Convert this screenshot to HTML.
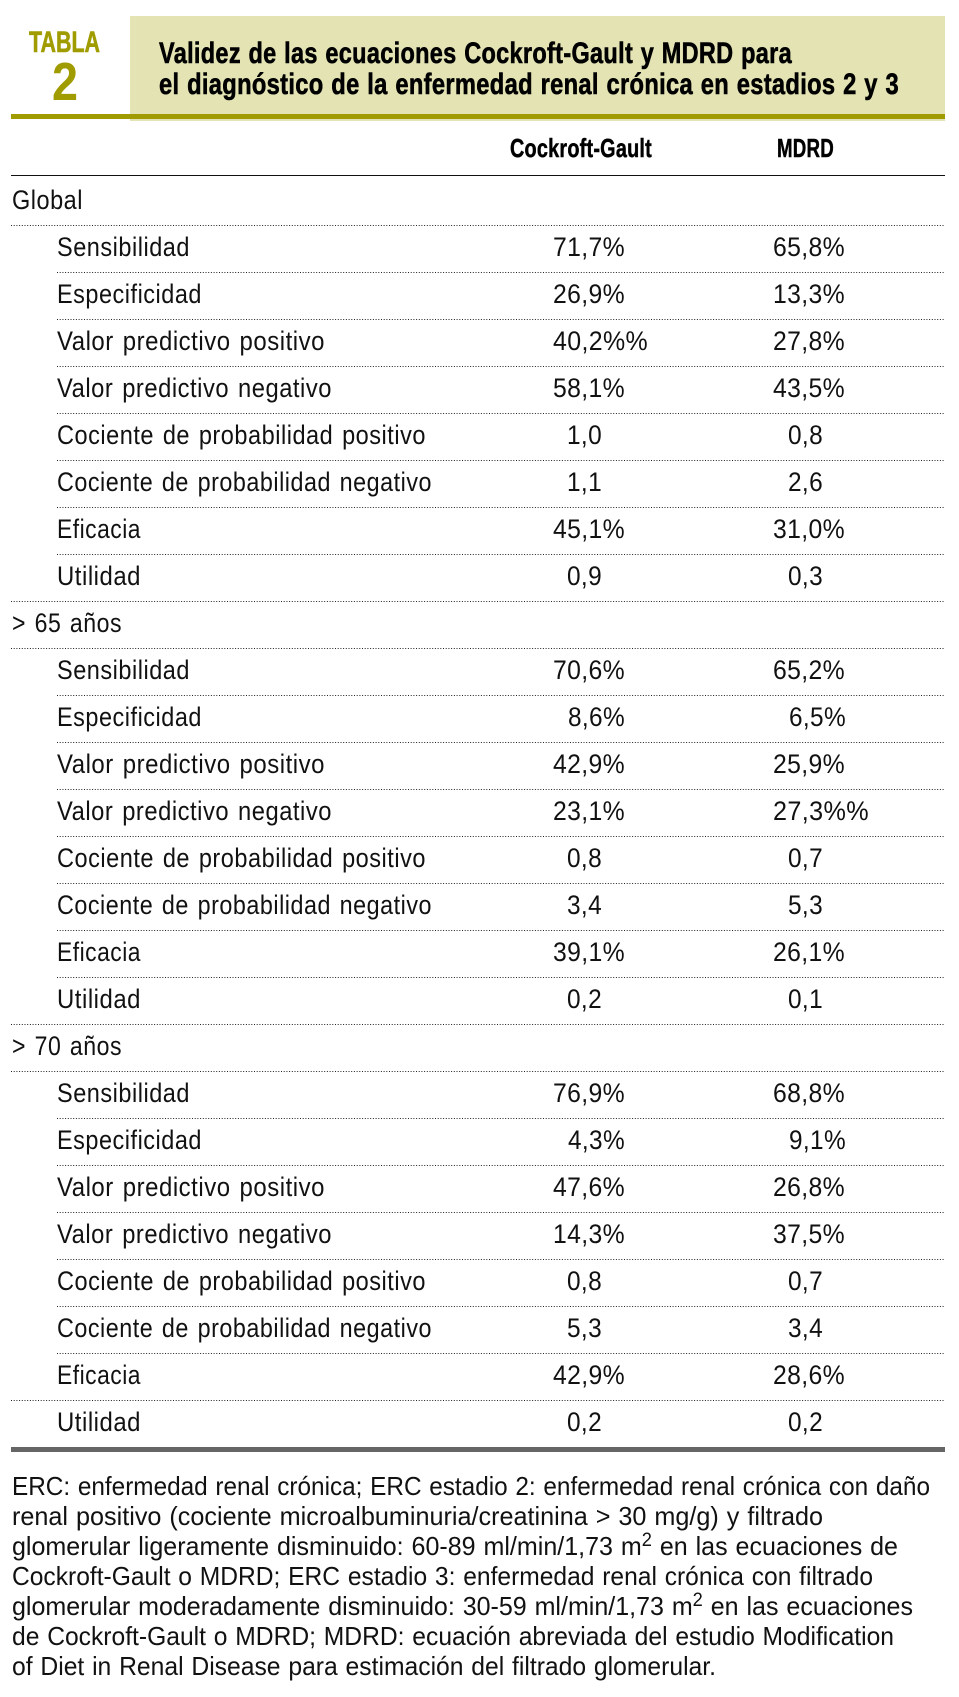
<!DOCTYPE html>
<html lang="es">
<head>
<meta charset="utf-8">
<title>Tabla 2</title>
<style>
html,body{margin:0;padding:0;background:#fff;}
svg{display:block;}
text{font-family:"Liberation Sans",Arial,sans-serif;fill:#111;white-space:pre;}
.t{font-size:27px;letter-spacing:.6px;word-spacing:2px;}
.v{font-size:27px;letter-spacing:.4px;}
.f{font-size:26px;word-spacing:1px;}
.h{font-size:26px;font-weight:bold;fill:#000;letter-spacing:.3px;stroke:#000;stroke-width:.5px;}
.ti{font-size:30px;font-weight:bold;fill:#000;letter-spacing:.4px;word-spacing:1px;stroke:#000;stroke-width:.6px;}
.d{stroke:#222;stroke-width:1;stroke-dasharray:1 1.7;}
</style>
</head>
<body>
<svg width="959" height="1697" viewBox="0 0 959 1697" xmlns="http://www.w3.org/2000/svg">
<rect x="0" y="0" width="959" height="1697" fill="#fff"/>
<rect x="130" y="16" width="815" height="105" fill="#e3e3b3"/>
<rect x="11" y="114" width="934" height="5" fill="#a09c00"/>
<text x="29" y="52" font-size="30" font-weight="bold" style="fill:#a09c00;stroke:#a09c00;stroke-width:.6px" textLength="71" lengthAdjust="spacingAndGlyphs">TABLA</text>
<text x="52" y="100" font-size="54" font-weight="bold" style="fill:#a09c00" textLength="26" lengthAdjust="spacingAndGlyphs">2</text>
<text class="ti" x="159" y="63" textLength="633" lengthAdjust="spacingAndGlyphs">Validez de las ecuaciones Cockroft-Gault y MDRD para</text>
<text class="ti" x="159" y="94" textLength="740" lengthAdjust="spacingAndGlyphs">el diagnóstico de la enfermedad renal crónica en estadios 2 y 3</text>
<text class="h" x="510" y="157" textLength="142" lengthAdjust="spacingAndGlyphs">Cockroft-Gault</text>
<text class="h" x="777" y="157" textLength="57" lengthAdjust="spacingAndGlyphs">MDRD</text>
<rect x="11" y="175" width="934" height="1" fill="#111"/>

<!-- Global -->
<text class="t" x="12" y="209" textLength="71" lengthAdjust="spacingAndGlyphs">Global</text>
<line class="d" x1="11" x2="945" y1="225.5" y2="225.5"/>
<text class="t" x="57" y="256" textLength="133" lengthAdjust="spacingAndGlyphs">Sensibilidad</text>
<text class="v" x="553" y="256" textLength="72" lengthAdjust="spacingAndGlyphs">71,7%</text>
<text class="v" x="773" y="256" textLength="72" lengthAdjust="spacingAndGlyphs">65,8%</text>
<line class="d" x1="57" x2="945" y1="272.5" y2="272.5"/>
<text class="t" x="57" y="303" textLength="145" lengthAdjust="spacingAndGlyphs">Especificidad</text>
<text class="v" x="553" y="303" textLength="72" lengthAdjust="spacingAndGlyphs">26,9%</text>
<text class="v" x="773" y="303" textLength="72" lengthAdjust="spacingAndGlyphs">13,3%</text>
<line class="d" x1="57" x2="945" y1="319.5" y2="319.5"/>
<text class="t" x="57" y="350" textLength="268" lengthAdjust="spacingAndGlyphs">Valor predictivo positivo</text>
<text class="v" x="553" y="350" textLength="95" lengthAdjust="spacingAndGlyphs">40,2%%</text>
<text class="v" x="773" y="350" textLength="72" lengthAdjust="spacingAndGlyphs">27,8%</text>
<line class="d" x1="57" x2="945" y1="366.5" y2="366.5"/>
<text class="t" x="57" y="397" textLength="275" lengthAdjust="spacingAndGlyphs">Valor predictivo negativo</text>
<text class="v" x="553" y="397" textLength="72" lengthAdjust="spacingAndGlyphs">58,1%</text>
<text class="v" x="773" y="397" textLength="72" lengthAdjust="spacingAndGlyphs">43,5%</text>
<line class="d" x1="57" x2="945" y1="413.5" y2="413.5"/>
<text class="t" x="57" y="444" textLength="369" lengthAdjust="spacingAndGlyphs">Cociente de probabilidad positivo</text>
<text class="v" x="567" y="444" textLength="35" lengthAdjust="spacingAndGlyphs">1,0</text>
<text class="v" x="788" y="444" textLength="35" lengthAdjust="spacingAndGlyphs">0,8</text>
<line class="d" x1="57" x2="945" y1="460.5" y2="460.5"/>
<text class="t" x="57" y="491" textLength="375" lengthAdjust="spacingAndGlyphs">Cociente de probabilidad negativo</text>
<text class="v" x="567" y="491" textLength="35" lengthAdjust="spacingAndGlyphs">1,1</text>
<text class="v" x="788" y="491" textLength="35" lengthAdjust="spacingAndGlyphs">2,6</text>
<line class="d" x1="57" x2="945" y1="507.5" y2="507.5"/>
<text class="t" x="57" y="538" textLength="84" lengthAdjust="spacingAndGlyphs">Eficacia</text>
<text class="v" x="553" y="538" textLength="72" lengthAdjust="spacingAndGlyphs">45,1%</text>
<text class="v" x="773" y="538" textLength="72" lengthAdjust="spacingAndGlyphs">31,0%</text>
<line class="d" x1="57" x2="945" y1="554.5" y2="554.5"/>
<text class="t" x="57" y="585" textLength="84" lengthAdjust="spacingAndGlyphs">Utilidad</text>
<text class="v" x="567" y="585" textLength="35" lengthAdjust="spacingAndGlyphs">0,9</text>
<text class="v" x="788" y="585" textLength="35" lengthAdjust="spacingAndGlyphs">0,3</text>
<line class="d" x1="11" x2="945" y1="601.5" y2="601.5"/>

<!-- > 65 -->
<text class="t" x="12" y="632" textLength="110" lengthAdjust="spacingAndGlyphs">&gt; 65 años</text>
<line class="d" x1="11" x2="945" y1="648.5" y2="648.5"/>
<text class="t" x="57" y="679" textLength="133" lengthAdjust="spacingAndGlyphs">Sensibilidad</text>
<text class="v" x="553" y="679" textLength="72" lengthAdjust="spacingAndGlyphs">70,6%</text>
<text class="v" x="773" y="679" textLength="72" lengthAdjust="spacingAndGlyphs">65,2%</text>
<line class="d" x1="57" x2="945" y1="695.5" y2="695.5"/>
<text class="t" x="57" y="726" textLength="145" lengthAdjust="spacingAndGlyphs">Especificidad</text>
<text class="v" x="568" y="726" textLength="57" lengthAdjust="spacingAndGlyphs">8,6%</text>
<text class="v" x="789" y="726" textLength="57" lengthAdjust="spacingAndGlyphs">6,5%</text>
<line class="d" x1="57" x2="945" y1="742.5" y2="742.5"/>
<text class="t" x="57" y="773" textLength="268" lengthAdjust="spacingAndGlyphs">Valor predictivo positivo</text>
<text class="v" x="553" y="773" textLength="72" lengthAdjust="spacingAndGlyphs">42,9%</text>
<text class="v" x="773" y="773" textLength="72" lengthAdjust="spacingAndGlyphs">25,9%</text>
<line class="d" x1="57" x2="945" y1="789.5" y2="789.5"/>
<text class="t" x="57" y="820" textLength="275" lengthAdjust="spacingAndGlyphs">Valor predictivo negativo</text>
<text class="v" x="553" y="820" textLength="72" lengthAdjust="spacingAndGlyphs">23,1%</text>
<text class="v" x="773" y="820" textLength="96" lengthAdjust="spacingAndGlyphs">27,3%%</text>
<line class="d" x1="57" x2="945" y1="836.5" y2="836.5"/>
<text class="t" x="57" y="867" textLength="369" lengthAdjust="spacingAndGlyphs">Cociente de probabilidad positivo</text>
<text class="v" x="567" y="867" textLength="35" lengthAdjust="spacingAndGlyphs">0,8</text>
<text class="v" x="788" y="867" textLength="35" lengthAdjust="spacingAndGlyphs">0,7</text>
<line class="d" x1="57" x2="945" y1="883.5" y2="883.5"/>
<text class="t" x="57" y="914" textLength="375" lengthAdjust="spacingAndGlyphs">Cociente de probabilidad negativo</text>
<text class="v" x="567" y="914" textLength="35" lengthAdjust="spacingAndGlyphs">3,4</text>
<text class="v" x="788" y="914" textLength="35" lengthAdjust="spacingAndGlyphs">5,3</text>
<line class="d" x1="57" x2="945" y1="930.5" y2="930.5"/>
<text class="t" x="57" y="961" textLength="84" lengthAdjust="spacingAndGlyphs">Eficacia</text>
<text class="v" x="553" y="961" textLength="72" lengthAdjust="spacingAndGlyphs">39,1%</text>
<text class="v" x="773" y="961" textLength="72" lengthAdjust="spacingAndGlyphs">26,1%</text>
<line class="d" x1="57" x2="945" y1="977.5" y2="977.5"/>
<text class="t" x="57" y="1008" textLength="84" lengthAdjust="spacingAndGlyphs">Utilidad</text>
<text class="v" x="567" y="1008" textLength="35" lengthAdjust="spacingAndGlyphs">0,2</text>
<text class="v" x="788" y="1008" textLength="35" lengthAdjust="spacingAndGlyphs">0,1</text>
<line class="d" x1="11" x2="945" y1="1024.5" y2="1024.5"/>

<!-- > 70 -->
<text class="t" x="12" y="1055" textLength="110" lengthAdjust="spacingAndGlyphs">&gt; 70 años</text>
<line class="d" x1="11" x2="945" y1="1071.5" y2="1071.5"/>
<text class="t" x="57" y="1102" textLength="133" lengthAdjust="spacingAndGlyphs">Sensibilidad</text>
<text class="v" x="553" y="1102" textLength="72" lengthAdjust="spacingAndGlyphs">76,9%</text>
<text class="v" x="773" y="1102" textLength="72" lengthAdjust="spacingAndGlyphs">68,8%</text>
<line class="d" x1="57" x2="945" y1="1118.5" y2="1118.5"/>
<text class="t" x="57" y="1149" textLength="145" lengthAdjust="spacingAndGlyphs">Especificidad</text>
<text class="v" x="568" y="1149" textLength="57" lengthAdjust="spacingAndGlyphs">4,3%</text>
<text class="v" x="789" y="1149" textLength="57" lengthAdjust="spacingAndGlyphs">9,1%</text>
<line class="d" x1="57" x2="945" y1="1165.5" y2="1165.5"/>
<text class="t" x="57" y="1196" textLength="268" lengthAdjust="spacingAndGlyphs">Valor predictivo positivo</text>
<text class="v" x="553" y="1196" textLength="72" lengthAdjust="spacingAndGlyphs">47,6%</text>
<text class="v" x="773" y="1196" textLength="72" lengthAdjust="spacingAndGlyphs">26,8%</text>
<line class="d" x1="57" x2="945" y1="1212.5" y2="1212.5"/>
<text class="t" x="57" y="1243" textLength="275" lengthAdjust="spacingAndGlyphs">Valor predictivo negativo</text>
<text class="v" x="553" y="1243" textLength="72" lengthAdjust="spacingAndGlyphs">14,3%</text>
<text class="v" x="773" y="1243" textLength="72" lengthAdjust="spacingAndGlyphs">37,5%</text>
<line class="d" x1="57" x2="945" y1="1259.5" y2="1259.5"/>
<text class="t" x="57" y="1290" textLength="369" lengthAdjust="spacingAndGlyphs">Cociente de probabilidad positivo</text>
<text class="v" x="567" y="1290" textLength="35" lengthAdjust="spacingAndGlyphs">0,8</text>
<text class="v" x="788" y="1290" textLength="35" lengthAdjust="spacingAndGlyphs">0,7</text>
<line class="d" x1="57" x2="945" y1="1306.5" y2="1306.5"/>
<text class="t" x="57" y="1337" textLength="375" lengthAdjust="spacingAndGlyphs">Cociente de probabilidad negativo</text>
<text class="v" x="567" y="1337" textLength="35" lengthAdjust="spacingAndGlyphs">5,3</text>
<text class="v" x="788" y="1337" textLength="35" lengthAdjust="spacingAndGlyphs">3,4</text>
<line class="d" x1="57" x2="945" y1="1353.5" y2="1353.5"/>
<text class="t" x="57" y="1384" textLength="84" lengthAdjust="spacingAndGlyphs">Eficacia</text>
<text class="v" x="553" y="1384" textLength="72" lengthAdjust="spacingAndGlyphs">42,9%</text>
<text class="v" x="773" y="1384" textLength="72" lengthAdjust="spacingAndGlyphs">28,6%</text>
<line class="d" x1="11" x2="945" y1="1400.5" y2="1400.5"/>
<text class="t" x="57" y="1431" textLength="84" lengthAdjust="spacingAndGlyphs">Utilidad</text>
<text class="v" x="567" y="1431" textLength="35" lengthAdjust="spacingAndGlyphs">0,2</text>
<text class="v" x="788" y="1431" textLength="35" lengthAdjust="spacingAndGlyphs">0,2</text>
<rect x="11" y="1447" width="934" height="5" fill="#666"/>

<!-- Footnote -->
<text class="f" x="12" y="1495" textLength="918" lengthAdjust="spacingAndGlyphs">ERC: enfermedad renal crónica; ERC estadio 2: enfermedad renal crónica con daño</text>
<text class="f" x="12" y="1525" textLength="811" lengthAdjust="spacingAndGlyphs">renal positivo (cociente microalbuminuria/creatinina &gt; 30 mg/g) y filtrado</text>
<text class="f" x="12" y="1555" textLength="886" lengthAdjust="spacingAndGlyphs">glomerular ligeramente disminuido: 60-89 ml/min/1,73 m<tspan dy="-9" font-size="19">2</tspan><tspan dy="9"> en las ecuaciones de</tspan></text>
<text class="f" x="12" y="1585" textLength="861" lengthAdjust="spacingAndGlyphs">Cockroft-Gault o MDRD; ERC estadio 3: enfermedad renal crónica con filtrado</text>
<text class="f" x="12" y="1615" textLength="901" lengthAdjust="spacingAndGlyphs">glomerular moderadamente disminuido: 30-59 ml/min/1,73 m<tspan dy="-9" font-size="19">2</tspan><tspan dy="9"> en las ecuaciones</tspan></text>
<text class="f" x="12" y="1645" textLength="882" lengthAdjust="spacingAndGlyphs">de Cockroft-Gault o MDRD; MDRD: ecuación abreviada del estudio Modification</text>
<text class="f" x="12" y="1675" textLength="704" lengthAdjust="spacingAndGlyphs">of Diet in Renal Disease para estimación del filtrado glomerular.</text>
</svg>
</body>
</html>
